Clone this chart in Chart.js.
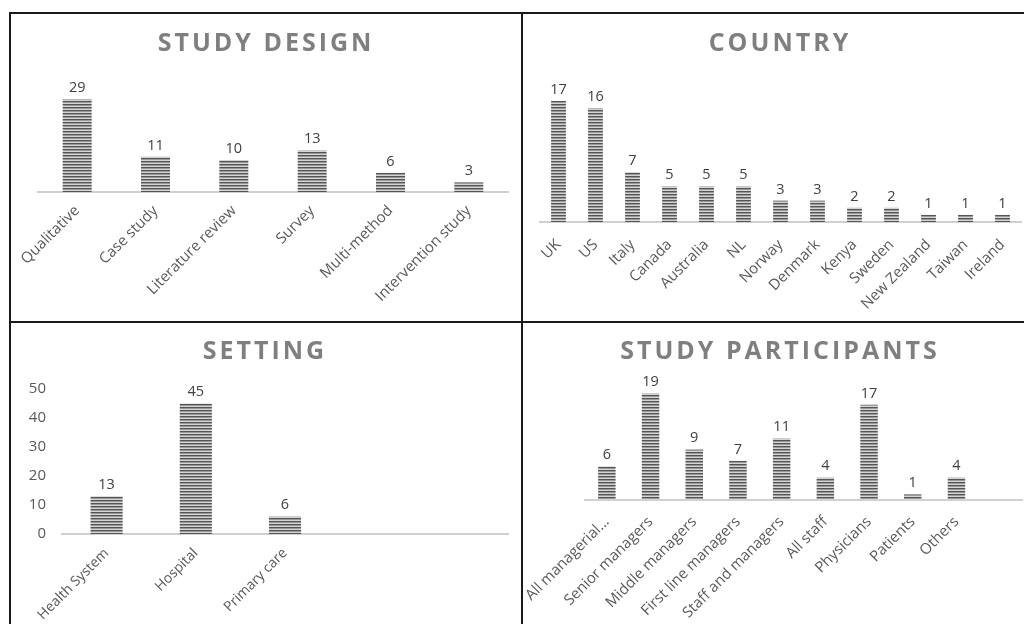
<!DOCTYPE html>
<html>
<head>
<meta charset="utf-8">
<script src="https://cdn.jsdelivr.net/npm/chart.js@4.4.1/dist/chart.umd.min.js"></script>
<style>
    body { margin: 0; background: #fff; width: 1024px; height: 624px; overflow: hidden; position: relative; }
    .line { position: absolute; background: #1a1a1a; z-index: 2; }
    canvas { position: absolute; }
</style>
</head>
<body>
<div class="line" style="left:9px;top:12px;width:1015px;height:2px"></div>
<div class="line" style="left:9px;top:321px;width:1015px;height:2px"></div>
<div class="line" style="left:9px;top:12px;width:2px;height:612px"></div>
<div class="line" style="left:521px;top:12px;width:2px;height:612px"></div>

<canvas id="c1" style="left:11px;top:14px" width="510" height="307"></canvas>
<canvas id="c2" style="left:523px;top:14px" width="501" height="307"></canvas>
<canvas id="c3" style="left:11px;top:323px" width="510" height="301"></canvas>
<canvas id="c4" style="left:523px;top:323px" width="501" height="301"></canvas>

<script>
// data
const designLabels = ['Qualitative', 'Case study', 'Literature review', 'Survey', 'Multi-method', 'Intervention study'];
const designValues = [29, 11, 10, 13, 6, 3];

const countryLabels = ['UK', 'US', 'Italy', 'Canada', 'Australia', 'NL', 'Norway', 'Denmark', 'Kenya', 'Sweden', 'New Zealand', 'Taiwan', 'Ireland'];
const countryValues = [17, 16, 7, 5, 5, 5, 3, 3, 2, 2, 1, 1, 1];

const settingLabels = ['Health System', 'Hospital', 'Primary care', '', ''];
const settingValues = [13, 45, 6, null, null];
const settingTicks = [0, 10, 20, 30, 40, 50];

const partLabels = ['All managerial...', 'Senior managers', 'Middle managers', 'First line managers', 'Staff and managers', 'All staff', 'Physicians', 'Patients', 'Others', ''];
const partValues = [6, 19, 9, 7, 11, 4, 17, 1, 4, null];

const FONT = '"Open Sans", sans-serif';

// striped fill like the excel pattern
function stripes() {
    let p = document.createElement('canvas');
    p.width = 4; p.height = 3;
    let g = p.getContext('2d');
    g.fillStyle = '#555555'; g.fillRect(0, 0, 4, 1);
    g.fillStyle = '#999999'; g.fillRect(0, 1, 4, 1);
    g.fillStyle = '#d4d4d4'; g.fillRect(0, 2, 4, 1);
    return g.createPattern(p, 'repeat');
}

// title with letter spacing + value labels
const extras = {
    id: 'extras',
    afterDraw(chart, args, opts) {
        const ctx = chart.ctx;
        ctx.save();
        ctx.fillStyle = '#404040';
        ctx.font = '14.5px ' + FONT;
        ctx.textAlign = 'center';
        ctx.textBaseline = 'bottom';
        const meta = chart.getDatasetMeta(0);
        meta.data.forEach((bar, i) => {
            const v = chart.data.datasets[0].data[i];
            if (v == null) return;
            ctx.fillText(v, bar.x, bar.y - 4);
        });
        ctx.fillStyle = '#7f7f7f';
        ctx.font = 'bold 25px ' + FONT;
        ctx.letterSpacing = '3px';
        ctx.textBaseline = 'middle';
        ctx.fillText(opts.text, opts.x, opts.y);
        ctx.restore();
    }
};

function makeChart(id, labels, values, o) {
    const ctx = document.getElementById(id).getContext('2d');
    return new Chart(ctx, {
        type: 'bar',
        data: {
            labels: labels,
            datasets: [{
                data: values,
                backgroundColor: stripes(),
                borderWidth: 0,
                barPercentage: 1,
                categoryPercentage: o.cat
            }]
        },
        options: {
            responsive: false,
            animation: false,
            events: [],
            layout: { padding: o.pad },
            plugins: {
                legend: { display: false },
                tooltip: { enabled: false },
                extras: { text: o.title, x: o.tx, y: o.ty }
            },
            scales: {
                x: {
                    grid: { display: false, drawTicks: false },
                    border: { color: '#d0d0d0', width: 2 },
                    ticks: {
                        color: '#595959',
                        font: { size: o.fs || 15, family: FONT },
                        minRotation: 45, maxRotation: 45,
                        autoSkip: false,
                        padding: o.tp
                    },
                    afterFit: (s) => { s.height = o.xh; s.paddingLeft = 0; s.paddingRight = 0; }
                },
                y: {
                    display: o.showY || false,
                    min: 0, max: o.max,
                    afterBuildTicks: (s) => { if (o.yticks) s.ticks = o.yticks.map(v => ({ value: v })); },
                    grid: { display: false },
                    border: { display: false },
                    ticks: { color: '#595959', font: { size: 15, family: FONT }, padding: 8 },
                    afterFit: (s) => { if (o.yw) s.width = o.yw; s.paddingTop = 0; s.paddingBottom = 0; }
                }
            }
        },
        plugins: [extras]
    });
}

makeChart('c1', designLabels, designValues, {
    title: 'STUDY DESIGN', tx: 255, ty: 30, max: 35, cat: 0.37, xh: 129, tp: 10,
    pad: { left: 27, right: 13, top: 66, bottom: 0 }
});
makeChart('c2', countryLabels, countryValues, {
    title: 'COUNTRY', tx: 257, ty: 30, max: 18, cat: 0.4, xh: 99, tp: 14,
    pad: { left: 17, right: 3, top: 80, bottom: 0 }
});
makeChart('c3', settingLabels, settingValues, {
    title: 'SETTING', tx: 254, ty: 29, max: 50, cat: 0.36, xh: 90, tp: 11, fs: 14, showY: true, yw: 51, yticks: settingTicks,
    pad: { left: 0, right: 13, top: 66, bottom: 0 }
});
makeChart('c4', partLabels, partValues, {
    title: 'STUDY PARTICIPANTS', tx: 257, ty: 29, max: 20, cat: 0.4, xh: 124, tp: 13,
    pad: { left: 62, right: 2, top: 65, bottom: 0 }
});
</script>
</body>
</html>
